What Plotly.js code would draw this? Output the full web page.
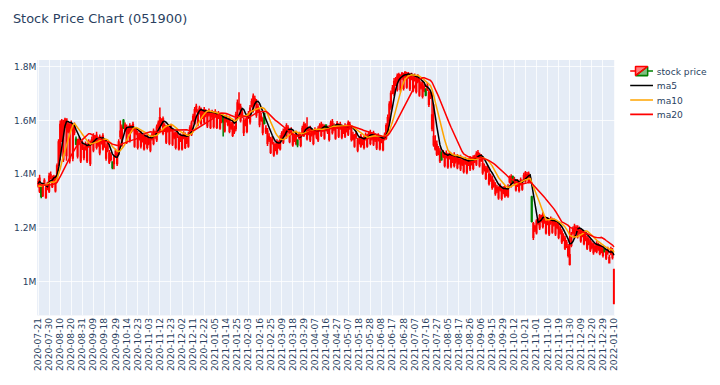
<!DOCTYPE html>
<html>
<head>
<meta charset="utf-8">
<script src="https://cdn.plot.ly/plotly-3.0.1.min.js"></script>
<style>
body{margin:0;background:#fff}
#wrap{width:720px;height:385px;overflow:hidden;position:relative}
#chart{width:947px;height:507px;transform:scale(0.76);transform-origin:0 0;position:absolute;left:0;top:0}
</style>
</head>
<body>
<div id="wrap"><div id="chart"></div></div>
<script>
// KRX trading days (month, days)
const tradingMonths = [
 ["2020-07",[21,22,23,24,27,28,29,30,31]],
 ["2020-08",[3,4,5,6,7,10,11,12,13,14,18,19,20,21,24,25,26,27,28,31]],
 ["2020-09",[1,2,3,4,7,8,9,10,11,14,15,16,17,18,21,22,23,24,25,28,29]],
 ["2020-10",[5,6,7,8,12,13,14,15,16,19,20,21,22,23,26,27,28,29,30]],
 ["2020-11",[2,3,4,5,6,9,10,11,12,13,16,17,18,19,20,23,24,25,26,27,30]],
 ["2020-12",[1,2,3,4,7,8,9,10,11,14,15,16,17,18,21,22,23,24,28,29,30]],
 ["2021-01",[4,5,6,7,8,11,12,13,14,15,18,19,20,21,22,25,26,27,28,29]],
 ["2021-02",[1,2,3,4,5,8,9,10,15,16,17,18,19,22,23,24,25,26]],
 ["2021-03",[2,3,4,5,8,9,10,11,12,15,16,17,18,19,22,23,24,25,26,29,30,31]],
 ["2021-04",[1,2,5,6,7,8,9,12,13,14,15,16,19,20,21,22,23,26,27,28,29,30]],
 ["2021-05",[3,4,6,7,10,11,12,13,14,17,18,20,21,24,25,26,27,28,31]],
 ["2021-06",[1,2,3,4,7,8,9,10,11,14,15,16,17,18,21,22,23,24,25,28,29,30]],
 ["2021-07",[1,2,5,6,7,8,9,12,13,14,15,16,19,20,21,22,23,26,27,28,29,30]],
 ["2021-08",[2,3,4,5,6,9,10,11,12,13,17,18,19,20,23,24,25,26,27,30,31]],
 ["2021-09",[1,2,3,6,7,8,9,10,13,14,15,16,17,23,24,27,28,29,30]],
 ["2021-10",[1,5,6,7,8,12,13,14,15,18,19,20,21,22,25,26,27,28,29]],
 ["2021-11",[1,2,3,4,5,8,9,10,11,12,15,16,17,18,19,22,23,24,25,26,29,30]],
 ["2021-12",[1,2,3,6,7,8,9,10,13,14,15,16,17,20,21,22,23,24,27,28,29,30]],
 ["2022-01",[3,4,5,6,7,10]]
];

// prices in thousand KRW
const closeK = [1372,1385,1318,1361,1376,1348,1366,1392,1398,1384,
1390,1381,1430,1520,1585,1598,1590,1602,1605,1586,
1578,1590,1572,1580,1512,1520,1528,1505,1515,1498,
1510,1502,1520,1512,1528,1540,1535,1545,1522,1538,
1530,1542,1520,1500,1505,1478,1470,1425,1462,1485,
1475,1520,1560,1575,1575,1582,1575,1568,1580,1572,
1585,1560,1565,1550,1545,1552,1538,1545,1530,1540,
1528,1535,1545,1560,1552,1575,1590,1610,1598,1605,
1580,1570,1575,1565,1578,1560,1550,1548,1555,1535,
1542,1538,1550,1545,1532,1548,1572,1590,1615,1640,
1652,1630,1645,1638,1625,1640,1632,1628,1635,1620,
1630,1625,1632,1618,1625,1620,1610,1595,1605,1612,
1598,1605,1585,1592,1570,1620,1665,1660,1650,1628,
1600,1598,1610,1625,1645,1670,1690,1680,1668,1650,
1630,1615,1600,1590,1570,1560,1540,1525,1530,1510,
1505,1520,1515,1535,1550,1560,1565,1580,1572,1560,
1565,1548,1540,1552,1510,1548,1545,1570,1585,1580,
1572,1565,1570,1560,1555,1565,1550,1568,1580,1585,
1578,1575,1565,1570,1572,1590,1595,1580,1575,1588,
1580,1585,1575,1570,1580,1575,1590,1585,1570,1545,
1540,1550,1525,1530,1540,1528,1535,1545,1540,1550,
1555,1545,1552,1540,1535,1542,1530,1535,1528,1545,
1580,1610,1660,1700,1720,1745,1750,1765,1770,1760,
1775,1768,1780,1770,1775,1765,1772,1760,1765,1755,
1762,1745,1735,1740,1725,1695,1730,1705,1700,1620,
1540,1520,1510,1490,1485,1455,1480,1470,1478,1468,
1475,1470,1462,1472,1460,1465,1455,1462,1450,1448,
1455,1445,1450,1458,1452,1460,1462,1475,1480,1470,
1465,1440,1430,1420,1425,1400,1392,1385,1370,1360,
1350,1345,1355,1340,1345,1350,1338,1352,1385,1390,
1372,1380,1368,1372,1365,1378,1370,1395,1405,1398,
1402,1385,1225,1215,1205,1225,1230,1245,1240,1250,
1235,1225,1230,1220,1232,1228,1225,1220,1215,1205,
1195,1185,1170,1160,1145,1130,1100,1175,1195,1205,
1200,1200,1195,1188,1185,1178,1170,1160,1155,1150,
1140,1135,1130,1140,1135,1130,1125,1120,1112,1110,
1120,1090,1120,1115,1045];

const openK = [1357,1337,1350,1321,1366,1313,1346,1337,1386,1354,
1375,1338,1385,1440,1470,1530,1455,1580,1470,1560,
1450,1575,1460,1555,1530,1468,1515,1450,1498,1462,
1495,1450,1505,1440,1515,1490,1522,1500,1510,1480,
1518,1495,1505,1460,1490,1445,1455,1445,1440,1470,
1440,1480,1540,1510,1600,1565,1520,1555,1525,1560,
1568,1505,1552,1500,1532,1505,1525,1495,1518,1500,
1515,1490,1532,1515,1540,1528,1575,1560,1585,1552,
1565,1520,1562,1515,1565,1512,1538,1500,1542,1495,
1528,1495,1538,1500,1520,1505,1555,1550,1600,1590,
1638,1585,1630,1590,1612,1595,1620,1580,1622,1575,
1615,1578,1620,1575,1612,1572,1598,1614,1562,1600,
1585,1560,1572,1545,1558,1570,1615,1645,1600,1615,
1555,1585,1560,1612,1595,1655,1640,1665,1620,1635,
1585,1602,1555,1625,1558,1515,1528,1482,1518,1472,
1492,1480,1502,1495,1538,1520,1552,1540,1560,1522,
1552,1510,1528,1515,1525,1535,1508,1555,1545,1568,
1532,1552,1528,1548,1515,1552,1538,1528,1568,1545,
1565,1535,1582,1558,1530,1575,1555,1568,1535,1575,
1542,1572,1538,1558,1542,1562,1550,1572,1530,1532,
1505,1538,1490,1518,1505,1515,1500,1532,1505,1538,
1515,1532,1512,1528,1498,1530,1495,1522,1492,1532,
1535,1560,1600,1650,1705,1700,1735,1715,1755,1715,
1760,1720,1765,1725,1762,1718,1758,1712,1752,1708,
1748,1695,1722,1690,1712,1715,1718,1660,1688,1570,
1510,1495,1475,1478,1450,1480,1468,1432,1465,1428,
1462,1430,1450,1432,1448,1425,1442,1420,1438,1410,
1442,1408,1438,1420,1440,1422,1450,1438,1468,1432,
1452,1405,1418,1385,1412,1365,1380,1350,1358,1328,
1338,1312,1342,1310,1332,1320,1325,1320,1372,1358,
1390,1368,1342,1360,1340,1365,1345,1382,1375,1385,
1372,1372,1315,1165,1192,1182,1218,1200,1228,1205,
1222,1182,1218,1178,1220,1185,1212,1178,1202,1165,
1182,1148,1158,1125,1132,1098,1065,1135,1182,1168,
1188,1168,1182,1152,1172,1142,1158,1125,1142,1118,
1128,1108,1118,1112,1122,1105,1112,1098,1122,1088,
1108,1070,1105,1090,918];

const highK = [1385,1398,1355,1368,1385,1362,1372,1405,1410,1395,
1398,1395,1440,1530,1600,1605,1602,1610,1608,1598,
1590,1600,1585,1592,1540,1532,1540,1518,1525,1510,
1522,1515,1530,1525,1540,1552,1545,1558,1535,1548,
1540,1552,1532,1515,1518,1490,1482,1448,1472,1495,
1485,1530,1600,1585,1605,1592,1585,1578,1590,1582,
1595,1572,1575,1562,1555,1562,1548,1555,1540,1550,
1538,1545,1555,1570,1562,1585,1600,1648,1608,1615,
1590,1582,1585,1575,1588,1570,1560,1558,1565,1545,
1552,1548,1560,1555,1542,1558,1582,1600,1625,1650,
1662,1642,1655,1648,1635,1650,1642,1638,1645,1630,
1640,1635,1642,1628,1635,1630,1620,1618,1615,1622,
1608,1615,1595,1602,1580,1632,1678,1705,1662,1640,
1612,1608,1620,1635,1658,1682,1700,1692,1680,1662,
1642,1628,1612,1630,1582,1572,1552,1538,1542,1520,
1515,1530,1525,1545,1560,1570,1575,1590,1582,1570,
1575,1558,1550,1562,1530,1558,1555,1580,1595,1590,
1612,1575,1580,1570,1565,1575,1560,1578,1590,1595,
1588,1585,1586,1580,1582,1600,1605,1590,1585,1598,
1590,1595,1585,1580,1590,1585,1600,1595,1580,1558,
1550,1560,1535,1540,1550,1538,1545,1555,1550,1560,
1565,1555,1562,1550,1545,1552,1540,1545,1538,1555,
1590,1622,1672,1712,1732,1758,1762,1775,1778,1772,
1780,1778,1782,1780,1780,1775,1778,1770,1775,1765,
1772,1755,1745,1750,1735,1720,1740,1715,1710,1705,
1660,1545,1525,1505,1498,1485,1490,1480,1488,1478,
1485,1480,1472,1482,1470,1475,1465,1472,1460,1458,
1465,1455,1460,1468,1462,1470,1472,1485,1490,1480,
1475,1468,1440,1430,1435,1420,1402,1395,1380,1370,
1360,1355,1365,1350,1355,1360,1348,1362,1395,1400,
1395,1390,1378,1382,1375,1388,1380,1405,1412,1408,
1410,1398,1320,1222,1212,1232,1238,1252,1248,1258,
1245,1235,1240,1230,1242,1238,1235,1230,1225,1215,
1205,1195,1180,1170,1155,1140,1202,1185,1205,1215,
1210,1210,1205,1198,1195,1188,1180,1170,1165,1160,
1150,1145,1140,1150,1145,1140,1135,1130,1125,1120,
1130,1100,1130,1125,1045];

const lowK = [1350,1330,1310,1315,1360,1308,1340,1330,1380,1348,
1368,1332,1375,1430,1452,1520,1445,1572,1450,1552,
1440,1568,1448,1545,1508,1458,1508,1442,1490,1452,
1488,1442,1498,1430,1508,1482,1515,1492,1502,1470,
1510,1488,1498,1450,1482,1438,1448,1418,1418,1462,
1430,1472,1530,1502,1568,1558,1512,1548,1518,1552,
1560,1498,1545,1492,1525,1496,1518,1488,1510,1492,
1508,1482,1525,1508,1532,1520,1568,1552,1578,1545,
1558,1512,1555,1508,1558,1505,1530,1492,1535,1488,
1520,1488,1530,1494,1512,1498,1548,1542,1592,1582,
1630,1578,1622,1582,1605,1588,1612,1572,1615,1568,
1608,1570,1612,1568,1605,1565,1590,1540,1555,1592,
1578,1552,1565,1538,1550,1560,1605,1638,1592,1608,
1542,1578,1552,1605,1585,1648,1630,1658,1610,1628,
1575,1595,1545,1585,1550,1505,1520,1475,1510,1465,
1485,1472,1495,1488,1530,1512,1545,1532,1552,1515,
1545,1502,1520,1508,1500,1528,1500,1548,1538,1560,
1525,1545,1520,1540,1508,1545,1530,1520,1560,1538,
1558,1528,1560,1550,1522,1568,1548,1560,1528,1568,
1535,1565,1530,1550,1535,1555,1542,1565,1522,1525,
1498,1530,1482,1510,1498,1508,1492,1525,1498,1530,
1508,1525,1505,1520,1490,1522,1488,1515,1485,1525,
1528,1550,1590,1640,1698,1690,1728,1708,1748,1705,
1752,1712,1758,1718,1755,1710,1750,1705,1745,1700,
1740,1688,1715,1682,1705,1690,1710,1650,1680,1560,
1502,1488,1468,1470,1442,1450,1460,1425,1458,1420,
1455,1422,1442,1425,1440,1418,1435,1412,1430,1402,
1435,1400,1430,1412,1432,1415,1442,1430,1460,1425,
1445,1398,1410,1378,1405,1358,1372,1342,1350,1320,
1330,1305,1335,1302,1325,1312,1318,1312,1365,1350,
1365,1360,1335,1352,1332,1358,1338,1375,1368,1378,
1365,1365,1220,1155,1185,1175,1210,1192,1220,1198,
1215,1175,1210,1170,1212,1178,1205,1170,1195,1158,
1175,1140,1150,1118,1125,1090,1060,1128,1175,1160,
1180,1160,1175,1145,1165,1135,1150,1118,1135,1110,
1120,1100,1110,1105,1115,1098,1105,1090,1108,1080,
1100,1068,1098,1082,918];

// closes of the 19 sessions before 2020-07-21 (for the moving averages)
const priorCloseK = [1370,1385,1378,1360,1352,1365,1372,1380,1368,1358,1345,1350,1338,1342,1360,1335,1350,1372,1385];

const dates = [];
tradingMonths.forEach(([m, days]) => days.forEach(d => dates.push(m + "-" + String(d).padStart(2, "0"))));

const toWon = a => a.map(v => v * 1000);
const close = toWon(closeK), open = toWon(openK), high = toWon(highK), low = toWon(lowK);
const fullClose = toWon(priorCloseK).concat(close);
const P = priorCloseK.length;
function movingAverage(n) {
  return close.map((_, i) => {
    let s = 0;
    for (let k = 0; k < n; k++) s += fullClose[P + i - k];
    return s / n;
  });
}

const traces = [
  {type: "candlestick", x: dates, open: open, high: high, low: low, close: close, name: "stock price",
   increasing: {line: {color: "red"}},
   decreasing: {line: {color: "green"}}},
  {type: "scatter", mode: "lines", x: dates, y: movingAverage(5), name: "ma5", line: {color: "black"}},
  {type: "scatter", mode: "lines", x: dates, y: movingAverage(10), name: "ma10", line: {color: "orange"}},
  {type: "scatter", mode: "lines", x: dates, y: movingAverage(20), name: "ma20", line: {color: "red"}}
];

const layout = {
  width: 947, height: 507,
  font: {family: 'Verdana, "DejaVu Sans", sans-serif', size: 12, color: "#2a3f5f"},
  title: {text: "Stock Price Chart (051900)", x: 17 / 947, xanchor: "left", y: 1 - 23.7 / 507, yanchor: "middle",
          font: {size: 17, color: "#2a3f5f"}},
  paper_bgcolor: "white", plot_bgcolor: "#E5ECF6",
  margin: {l: 49, r: 134, t: 79, b: 92},
  showlegend: true,
  xaxis: {type: "category", tickmode: "linear", tick0: 0, dtick: 7, tickangle: -90,
          rangeslider: {visible: false}, gridcolor: "white", zeroline: false, showline: false,
          ticks: "", automargin: false},
  yaxis: {range: [874000, 1825000], gridcolor: "white", zeroline: false, showline: false,
          ticks: "", automargin: false}
};

Plotly.newPlot("chart", traces, layout, {displayModeBar: false});
</script>
</body>
</html>
